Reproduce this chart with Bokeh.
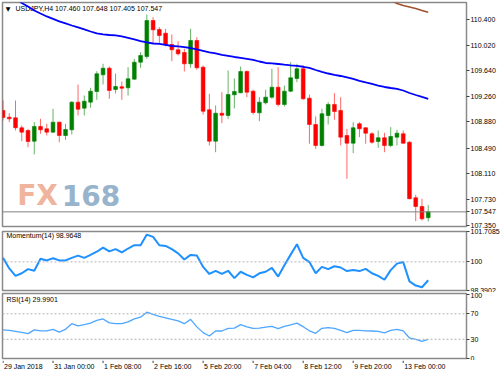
from bokeh.plotting import figure
from bokeh.layouts import column
from bokeh.models import ColumnDataSource, Range1d, FixedTicker, Span, Label, NumeralTickFormatter
from bokeh.embed import file_html
from bokeh.resources import INLINE

# ---------------- data ----------------
symbol = "USDJPY,H4"
bars = list(range(69))
opens = [109.051, 108.951, 108.942, 108.794, 108.754, 108.595, 108.813, 108.779, 108.729, 108.877,
         108.680, 108.764, 109.174, 109.085, 109.174, 109.332, 109.580, 109.678, 109.362, 109.402,
         109.387, 109.515, 109.767, 109.851, 110.385, 110.252, 110.197, 110.029, 109.951, 109.911,
         109.743, 110.089, 109.693, 109.061, 108.595, 109.010, 108.976, 109.283, 109.313, 109.629,
         109.337, 109.016, 109.165, 109.248, 109.396, 109.140, 109.337, 109.525, 109.669, 109.233,
         108.843, 108.531, 108.976, 109.140, 109.051, 108.680, 108.566, 108.853, 108.794, 108.705,
         108.591, 108.646, 108.531, 108.655, 108.705, 108.580, 107.756, 107.627, 107.460]
highs = [109.199, 109.010, 109.199, 108.828, 108.779, 108.877, 108.927, 108.853, 109.076, 108.887,
         108.853, 109.188, 109.436, 109.273, 109.387, 109.633, 109.743, 109.703, 109.599, 109.481,
         109.693, 109.817, 109.915, 110.474, 110.434, 110.286, 110.262, 110.178, 110.078, 109.966,
         110.262, 110.138, 109.718, 109.298, 109.125, 109.322, 109.644, 109.525, 109.703, 109.644,
         109.358, 109.248, 109.358, 109.669, 109.693, 109.421, 109.767, 109.743, 109.718, 109.288,
         108.962, 109.076, 109.174, 109.307, 109.248, 108.779, 108.877, 108.877, 108.803, 108.729,
         108.754, 108.720, 108.803, 108.764, 108.754, 108.595, 107.800, 107.741, 107.648]
lows = [108.902, 108.877, 108.754, 108.595, 108.506, 108.398, 108.705, 108.680, 108.720, 108.580,
        108.616, 108.695, 108.976, 108.976, 109.091, 109.209, 109.436, 109.224, 109.303, 109.209,
        109.273, 109.506, 109.684, 109.817, 110.040, 110.040, 110.000, 109.782, 109.866, 109.629,
        109.684, 109.654, 108.991, 108.531, 108.432, 108.862, 108.927, 109.080, 109.307, 109.248,
        108.991, 108.892, 109.140, 109.224, 109.110, 109.110, 109.322, 109.470, 109.209, 108.557,
        108.482, 108.517, 108.843, 108.913, 108.531, 108.038, 108.417, 108.655, 108.557, 108.557,
        108.497, 108.432, 108.506, 108.531, 108.557, 107.735, 107.409, 107.419, 107.405]
closes = [108.947, 108.927, 108.794, 108.729, 108.591, 108.813, 108.764, 108.729, 108.877, 108.680,
          108.769, 109.174, 109.070, 109.188, 109.337, 109.595, 109.678, 109.347, 109.406, 109.381,
          109.521, 109.767, 109.866, 110.385, 110.247, 110.163, 110.025, 109.951, 109.891, 109.743,
          110.089, 109.684, 109.040, 108.595, 109.010, 108.981, 109.288, 109.332, 109.629, 109.322,
          109.021, 109.174, 109.248, 109.396, 109.140, 109.337, 109.536, 109.669, 109.224, 108.843,
          108.531, 109.002, 109.140, 109.036, 108.655, 108.566, 108.794, 108.779, 108.714, 108.580,
          108.646, 108.531, 108.665, 108.714, 108.566, 107.741, 107.627, 107.444, 107.547]

# moving averages (blue from bar 2, brown from bar 62)
ma_blue_start = 2
ma_blue = [110.712, 110.645, 110.593, 110.534, 110.489, 110.445, 110.408, 110.371, 110.341, 110.311,
           110.282, 110.252, 110.222, 110.193, 110.178, 110.170, 110.163, 110.148, 110.126, 110.104,
           110.081, 110.059, 110.044, 110.037, 110.022, 110.007, 110.000, 109.989, 109.977, 109.955,
           109.933, 109.911, 109.896, 109.874, 109.859, 109.844, 109.832, 109.817, 109.800, 109.777,
           109.755, 109.748, 109.740, 109.730, 109.721, 109.713, 109.699, 109.681, 109.651, 109.622,
           109.599, 109.580, 109.562, 109.540, 109.518, 109.491, 109.466, 109.444, 109.421, 109.399,
           109.384, 109.372, 109.347, 109.310, 109.280, 109.251, 109.224]
ma_brown_start = 62
ma_brown = [110.689, 110.637, 110.608, 110.586, 110.563, 110.534, 110.508]

momentum = [100.228, 99.630, 99.211, 99.358, 99.592, 99.500, 100.174, 100.082, 100.207, 100.082,
            100.082, 100.228, 100.354, 100.228, 100.392, 100.571, 100.805, 100.588, 100.718, 100.533,
            100.751, 100.936, 100.936, 101.534, 101.404, 100.936, 100.898, 100.718, 100.479, 100.136,
            100.392, 100.354, 99.717, 99.320, 99.500, 99.320, 99.500, 99.086, 99.445, 99.266,
            99.130, 99.358, 99.445, 99.663, 99.173, 99.810, 100.408, 100.990, 100.228, 99.989,
            99.358, 99.717, 99.592, 99.755, 99.684, 99.483, 99.538, 99.483, 99.608, 99.358,
            99.211, 98.994, 99.538, 99.902, 99.989, 98.901, 98.667, 98.575, 98.9648]
rsi = [44.8, 44.0, 42.5, 40.9, 38.9, 44.8, 43.3, 43.3, 45.6, 41.4,
       45.6, 54.5, 51.1, 52.9, 55.4, 59.6, 61.9, 55.7, 54.5, 54.5,
       57.3, 61.9, 64.7, 72.5, 69.0, 65.8, 63.5, 61.2, 58.8, 54.5,
       61.2, 49.5, 40.5, 35.2, 43.0, 43.0, 47.2, 47.6, 52.9, 49.5,
       47.2, 47.6, 49.2, 50.3, 46.7, 50.3, 52.6, 55.4, 49.8, 43.3,
       39.4, 47.2, 48.2, 47.2, 44.0, 40.5, 44.0, 44.0, 43.3, 43.0,
       42.5, 40.2, 44.0, 45.6, 43.3, 32.1, 30.0, 26.9, 29.9901]

price_ticks = [110.400, 110.020, 109.640, 109.260, 108.880, 108.490, 108.110, 107.730, 107.350]
mom_ticks = [98.3902, 100, 101.7085]
mom_tick_labels = ["98.3902", "100", "101.7085"]
rsi_ticks = [0, 30, 70, 100]
rsi_levels = [30, 70]
x_ticks = [0, 8, 16, 24, 32, 40, 48, 56, 64]
x_tick_labels = ["29 Jan 2018", "31 Jan 00:00", "1 Feb 08:00", "2 Feb 16:00", "5 Feb 20:00",
                 "7 Feb 04:00", "8 Feb 12:00", "9 Feb 20:00", "13 Feb 00:00"]

# ---------------- styling ----------------
FONT = "Liberation Sans"
FS = "7px"
BORDER = "#8a8a8a"
FW = 464
RB = 34
BULL = "#008000"
BEAR = "#FF0000"

xr = Range1d(-0.08, 74.12)


def make_fig(fh, top, bottom, yr):
    p = figure(frame_width=FW, frame_height=fh, x_range=xr, y_range=yr,
               min_border_left=2, min_border_right=RB, min_border_top=top, min_border_bottom=bottom,
               toolbar_location=None, output_backend="svg",
               x_axis_location=None, y_axis_location="right")
    p.grid.visible = False
    p.outline_line_color = BORDER
    p.outline_line_width = 1.5
    p.background_fill_color = "white"
    p.border_fill_color = "white"
    ax = p.yaxis[0]
    ax.axis_line_color = None
    ax.major_tick_in = 0
    ax.major_tick_out = 3
    ax.minor_tick_in = 0
    ax.minor_tick_out = 0
    ax.major_tick_line_color = "#404040"
    ax.major_label_standoff = 1
    ax.major_label_text_font = FONT
    ax.major_label_text_font_size = FS
    ax.major_label_text_color = "black"
    return p


def header(p, x, y, text, level="annotation"):
    p.add_layout(Label(x=x, y=y, x_units="screen", y_units="screen", text=text,
                       text_font=FONT, text_font_size=FS, text_color="black",
                       text_align="left", text_baseline="middle", level=level))


# ---------------- main price panel ----------------
p1 = make_fig(224, 2, 2, Range1d(107.330, 110.652))
p1.yaxis[0].ticker = FixedTicker(ticks=price_ticks + [closes[-1]])
p1.yaxis[0].formatter = NumeralTickFormatter(format="0.000")

# watermark
for txt, cx, col in [("FX", 35.0, "#F0B49C"), ("168", 88.5, "#98B4CC")]:
    p1.add_layout(Label(x=cx, y=31.5, x_units="screen", y_units="screen", text=txt,
                        text_font="DejaVu Sans", text_font_style="bold", text_font_size="28px",
                        text_color=col, text_align="center", text_baseline="middle", level="underlay"))

src = ColumnDataSource(dict(
    x=bars, o=opens, h=highs, l=lows, c=closes,
    top=[max(o, c) for o, c in zip(opens, closes)],
    bottom=[min(o, c) for o, c in zip(opens, closes)],
    color=[BULL if c >= o else BEAR for o, c in zip(opens, closes)],
))
p1.segment(x0="x", y0="l", x1="x", y1="h", line_color="color", line_alpha=0.6, line_width=1, source=src)
p1.vbar(x="x", top="top", bottom="bottom", width=0.6, fill_color="color", line_color="color",
        line_width=0.6, source=src)

p1.line(bars[ma_blue_start:], ma_blue, line_color="#0000FF", line_width=1.8)
p1.line(bars[ma_brown_start:], ma_brown, line_color="#A0522D", line_width=1.6)

p1.add_layout(Span(location=closes[-1], dimension="width", line_color="#808080", line_width=1))

p1.add_layout(Label(x=5.5, y=218, x_units="screen", y_units="screen", text="\u25BC",
                    text_font="DejaVu Sans", text_font_size="6px", text_color="black",
                    text_align="center", text_baseline="middle", level="underlay"))
header(p1, 13, 218,
       f"{symbol} {opens[-1]:.3f} {highs[-1]:.3f} {lows[-1]:.3f} {closes[-1]:.3f}", level="underlay")

# ---------------- momentum panel ----------------
p2 = make_fig(59, 3, 2, Range1d(98.3902, 101.7085))
p2.yaxis[0].ticker = FixedTicker(ticks=mom_ticks)
p2.yaxis[0].major_label_overrides = {t: s for t, s in zip(mom_ticks, mom_tick_labels)}
p2.add_layout(Span(location=100, dimension="width", line_color="#b4b4b4", line_width=1, line_dash="2 2"))
p2.line(bars, momentum, line_color="#1E90FF", line_width=2)
header(p2, 4, 55, f"Momentum(14) {momentum[-1]:.4f}")

# ---------------- RSI panel ----------------
p3 = make_fig(65, 1, 2, Range1d(0, 101.7))
p3.yaxis[0].ticker = FixedTicker(ticks=rsi_ticks)
for lv in rsi_levels:
    p3.add_layout(Span(location=lv, dimension="width", line_color="#b4b4b4", line_width=1, line_dash="2 2"))
p3.line(bars, rsi, line_color="#4DA6FF", line_width=1.3)
header(p3, 4, 59.5, f"RSI(14) {rsi[-1]:.4f}")

# ---------------- time strip (ticks + left-aligned time labels) ----------------
p4 = figure(frame_width=FW, frame_height=15, x_range=xr, y_range=Range1d(0, 15),
            min_border_left=2, min_border_right=RB, min_border_top=0, min_border_bottom=0,
            toolbar_location=None, output_backend="svg",
            x_axis_location=None, y_axis_location=None)
p4.grid.visible = False
p4.outline_line_color = None
p4.segment(x0=x_ticks, x1=x_ticks, y0=[15] * len(x_ticks), y1=[12.5] * len(x_ticks),
           line_color="#404040", line_width=1)
for t, lab in zip(x_ticks, x_tick_labels):
    p4.add_layout(Label(x=t, y=9, x_offset=1, text=lab,
                        text_font=FONT, text_font_size=FS, text_color="black",
                        text_align="left", text_baseline="middle"))

layout = column(p1, p2, p3, p4, spacing=0)
open("out.html", "w").write(file_html(layout, INLINE))
